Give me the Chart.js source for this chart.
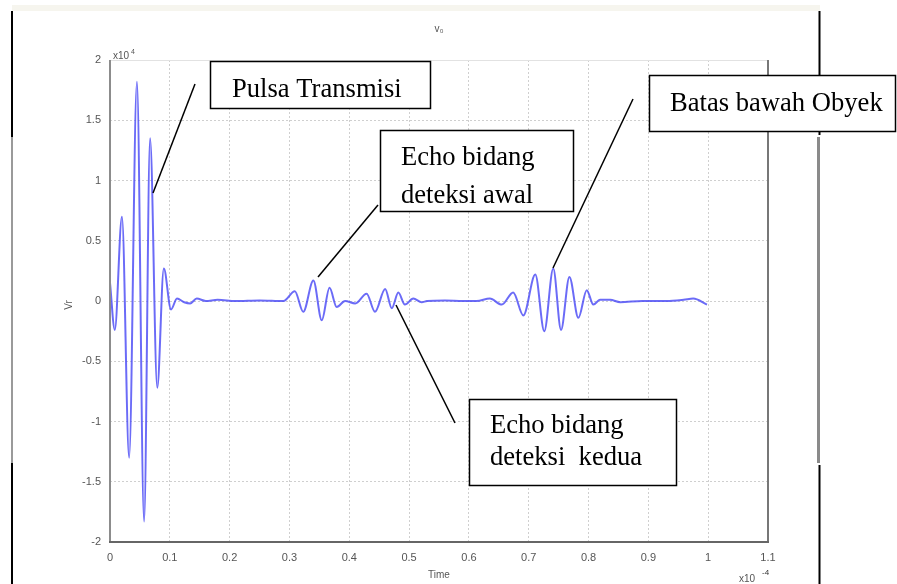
<!DOCTYPE html>
<html>
<head>
<meta charset="utf-8">
<script src="https://cdn.jsdelivr.net/npm/chart.js@4.4.1/dist/chart.umd.min.js"></script>
<style>
  html, body { margin: 0; padding: 0; background: #fff; }
</style>
</head>
<body>
<canvas id="echoChart" width="897" height="584"></canvas>
<script>
// time axis in units of 1e-4 s, amplitude in units of 1e4
const timeVals = [
  0.000, 0.008, 0.020, 0.032, 0.045, 0.057, 0.067, 0.079, 0.090, 0.102,
  0.112, 0.124, 0.134, 0.145, 0.160, 0.180, 0.210, 0.250, 0.290,
  0.309, 0.323, 0.340, 0.354, 0.367, 0.379, 0.393, 0.410, 0.429, 0.443,
  0.460, 0.471, 0.482, 0.493, 0.507, 0.521, 0.530, 0.560, 0.590,
  0.613, 0.635, 0.655, 0.674, 0.691, 0.711, 0.726, 0.741, 0.754, 0.768,
  0.783, 0.797, 0.808, 0.819, 0.836, 0.853, 0.890, 0.930, 0.959, 0.975, 0.998
];
const signalVals = [
  0.15, -0.24, 0.70, -1.30, 1.82, -1.83, 1.35, -0.72, 0.27, -0.07,
  0.02, -0.01, -0.02, 0.02, 0.00, 0.01, 0.00, 0.005, 0.00,
  0.08, -0.09, 0.17, -0.16, 0.11, -0.05, 0.00, -0.02, 0.06, -0.09,
  0.10, -0.06, 0.07, -0.03, 0.02, -0.01, 0.00, 0.005, 0.00,
  0.00, 0.02, -0.03, 0.07, -0.12, 0.22, -0.25, 0.27, -0.24, 0.20,
  -0.14, 0.09, -0.03, 0.01, 0.01, -0.01, 0.00, 0.00, 0.01, 0.02, -0.03
];
const xTicks = [0, 0.1, 0.2, 0.3, 0.4, 0.5, 0.6, 0.7, 0.8, 0.9, 1, 1.1];
const yTicks = [-2, -1.5, -1, -0.5, 0, 0.5, 1, 1.5, 2];

const chartTitle = 'v\u2080';
const xTitle = 'Time';
const yTitle = 'Vr';

// callout boxes: [x, y, w, h], text lines, text origin, pointer line
const callouts = [
  { box: [210, 61, 220, 47], lines: ['Pulsa Transmisi'], tx: 232, ty: 97, lh: 38,
    ptr: [195, 84, 153, 193] },
  { box: [380, 130, 193, 81], lines: ['Echo bidang', 'deteksi awal'], tx: 401, ty: 165, lh: 38,
    ptr: [378, 205, 318, 277] },
  { box: [469, 399, 207, 86], lines: ['Echo bidang', 'deteksi  kedua'], tx: 490, ty: 433, lh: 32,
    ptr: [396, 305, 455, 423] },
  { box: [649, 75, 246, 56], lines: ['Batas bawah Obyek'], tx: 670, ty: 111, lh: 38,
    ptr: [633, 99, 553, 268] }
];

const pagePlugin = {
  id: 'page',
  beforeDraw(chart) {
    const ctx = chart.ctx;
    ctx.save();
    ctx.fillStyle = '#fff';
    ctx.fillRect(0, 0, chart.width, chart.height);
    // scanned page strip and margins
    ctx.fillStyle = '#f6f5ee';
    ctx.fillRect(12, 5, 808, 6);
    const vline = (x, y0, y1, col, w) => {
      ctx.strokeStyle = col; ctx.lineWidth = w;
      ctx.beginPath(); ctx.moveTo(x, y0); ctx.lineTo(x, y1); ctx.stroke();
    };
    vline(12, 11, 137, '#000', 2);
    vline(12, 137, 463, '#9a9a9a', 2);
    vline(12, 463, 584, '#000', 2);
    vline(819.5, 11, 135, '#000', 2);
    vline(818.5, 137, 463, '#8a8a8a', 3);
    vline(819.5, 465, 584, '#000', 2);
    ctx.restore();
  },
  afterDraw(chart) {
    const ctx = chart.ctx;
    const a = chart.chartArea;
    ctx.save();
    // axes frame
    ctx.lineWidth = 1;
    ctx.strokeStyle = '#e2e2e2';
    ctx.beginPath(); ctx.moveTo(a.left, a.top + 0.5); ctx.lineTo(a.right, a.top + 0.5); ctx.stroke();
    ctx.lineWidth = 2;
    ctx.strokeStyle = '#8c8c8c';
    ctx.beginPath(); ctx.moveTo(a.left, a.top); ctx.lineTo(a.left, a.bottom); ctx.stroke();
    ctx.strokeStyle = '#777';
    ctx.beginPath(); ctx.moveTo(a.right, a.top); ctx.lineTo(a.right, a.bottom); ctx.stroke();
    ctx.strokeStyle = '#666';
    ctx.beginPath(); ctx.moveTo(a.left - 1, a.bottom); ctx.lineTo(a.right + 1, a.bottom); ctx.stroke();

    // small texts
    ctx.fillStyle = '#555';
    ctx.font = '10px "Liberation Sans"';
    ctx.textAlign = 'center';
    ctx.textBaseline = 'alphabetic';
    ctx.fillText(chartTitle, 439, 32);
    ctx.fillText(xTitle, 439, 578);
    ctx.textAlign = 'left';
    ctx.fillText('x10', a.left + 3, a.top - 1);
    ctx.font = '7px "Liberation Sans"';
    ctx.fillText('4', a.left + 21, a.top - 6);
    ctx.font = '10px "Liberation Sans"';
    ctx.fillText('x10', 739, 582);
    ctx.font = '8px "Liberation Sans"';
    ctx.fillStyle = '#333';
    ctx.fillText('-4', 762, 575);
    ctx.fillStyle = '#555';
    ctx.save();
    ctx.translate(72, 305);
    ctx.rotate(-Math.PI / 2);
    ctx.textAlign = 'center';
    ctx.font = '10px "Liberation Sans"';
    ctx.fillText(yTitle, 0, 0);
    ctx.restore();

    // callouts
    callouts.forEach(c => {
      ctx.strokeStyle = '#000';
      ctx.lineWidth = 1.5;
      ctx.beginPath();
      ctx.moveTo(c.ptr[0], c.ptr[1]);
      ctx.lineTo(c.ptr[2], c.ptr[3]);
      ctx.stroke();
      const [x, y, w, h] = c.box;
      ctx.fillStyle = '#fff';
      ctx.fillRect(x, y, w, h);
      ctx.strokeRect(x + 0.5, y + 0.5, w, h);
      ctx.fillStyle = '#000';
      ctx.font = '26.6px "Liberation Serif"';
      ctx.textAlign = 'left';
      c.lines.forEach((t, i) => ctx.fillText(t, c.tx, c.ty + i * c.lh));
    });
    ctx.restore();
  }
};

const tickFont = { family: 'Liberation Sans', size: 11 };

new Chart(document.getElementById('echoChart').getContext('2d'), {
  type: 'line',
  data: {
    datasets: [{
      data: timeVals.map((t, i) => ({ x: t, y: signalVals[i] })),
      borderColor: 'rgba(70, 70, 245, 0.8)',
      borderWidth: 2,
      pointRadius: 0,
      cubicInterpolationMode: 'monotone',
      fill: false
    }]
  },
  options: {
    responsive: false,
    animation: false,
    layout: { padding: { top: 60, right: 129, left: 0, bottom: 0 } },
    plugins: { legend: { display: false }, tooltip: { enabled: false } },
    scales: {
      x: {
        type: 'linear',
        min: 0,
        max: 1.1,
        afterBuildTicks: s => { s.ticks = xTicks.map(v => ({ value: v })); },
        afterFit: s => { s.height = 42; },
        grid: { color: '#cfcfcf', lineWidth: 1, drawTicks: false },
        border: { display: false, dash: [2, 2] },
        ticks: { color: '#555', font: tickFont, padding: 9, maxRotation: 0, autoSkip: false,
                 callback: v => String(v) }
      },
      y: {
        type: 'linear',
        min: -2,
        max: 2,
        afterBuildTicks: s => { s.ticks = yTicks.map(v => ({ value: v })); },
        afterFit: s => { s.width = 110; },
        grid: { color: '#cfcfcf', lineWidth: 1, drawTicks: false },
        border: { display: false, dash: [2, 2] },
        ticks: { color: '#555', font: tickFont, padding: 9, callback: v => String(v) }
      }
    }
  },
  plugins: [pagePlugin]
});
</script>
</body>
</html>
